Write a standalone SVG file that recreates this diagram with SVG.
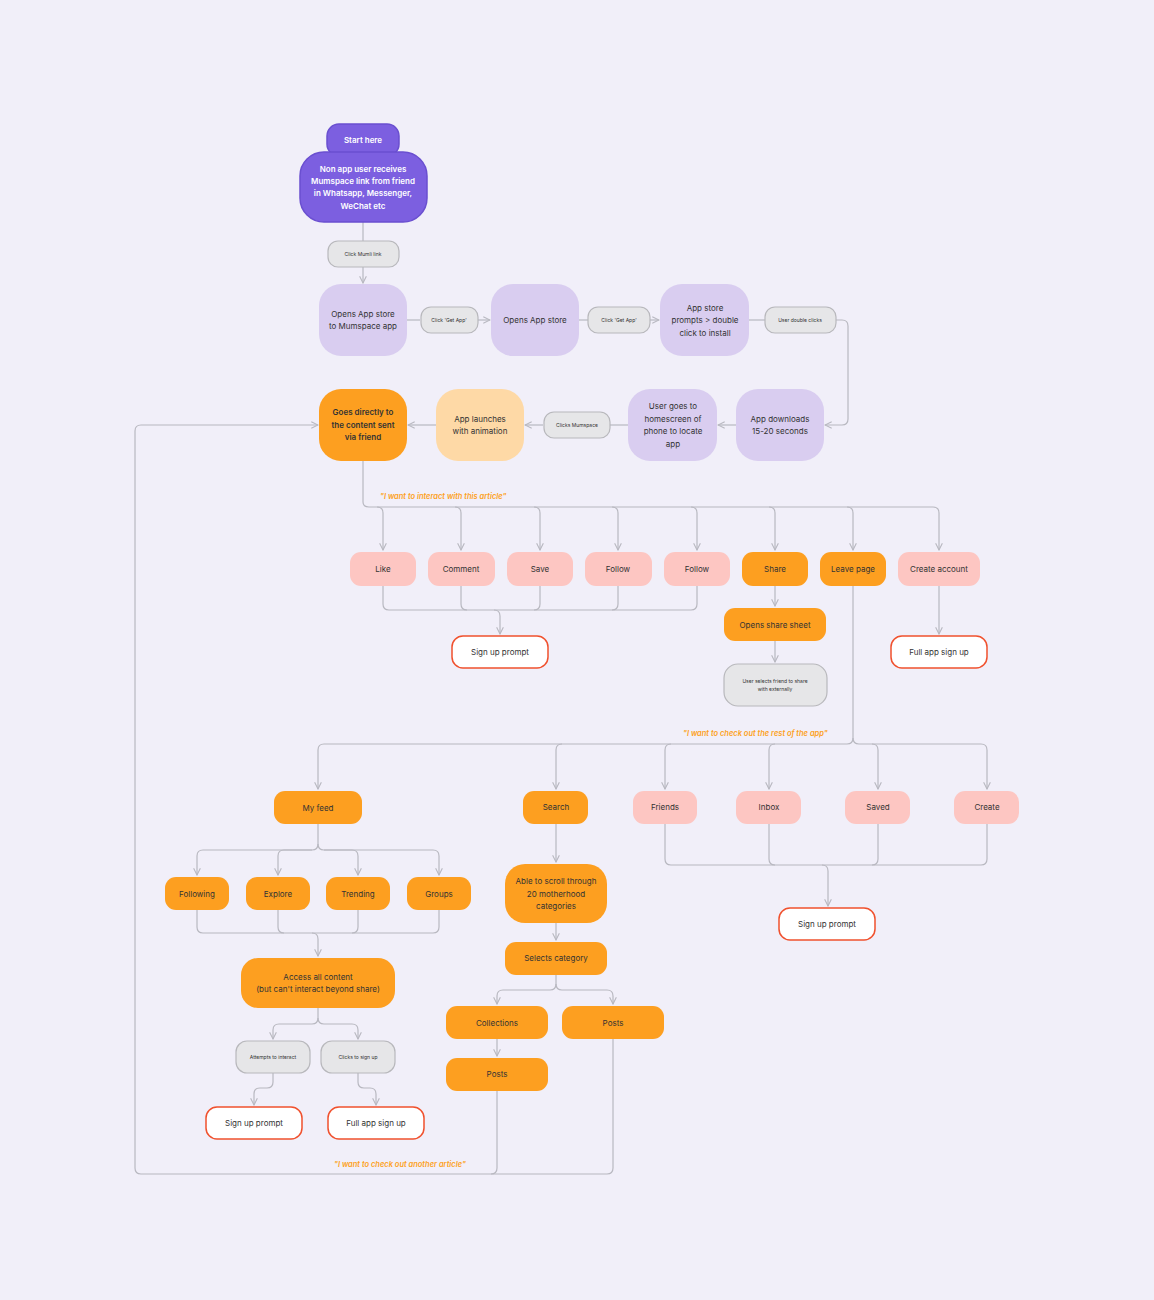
<svg xmlns="http://www.w3.org/2000/svg" width="1154" height="1300" viewBox="0 0 1154 1300">
<defs>
<style>
text{font-family:Inter,"Liberation Sans",sans-serif;text-anchor:middle;dominant-baseline:central;font-size:8px;fill:#333}
.pu{fill:#7c5fe0;stroke:#6a4fd0;stroke-width:1.5}
.pt{fill:#fff;font-weight:600}
.lv{fill:#d9cdf0}
.gr{fill:#e6e6e8;stroke:#b8b8bc;stroke-width:1.2}
.gt{font-size:5px}
.or{fill:#fd9f20}
.pk{fill:#fdc6c2}
.yl{fill:#fed9a6}
.rd{fill:#fff;stroke:#f0512e;stroke-width:1.5}
.lab{fill:#fd9f20;font-style:italic;font-weight:600;font-size:7.5px;text-anchor:start}
.c path{fill:none;stroke:#b8b8c0;stroke-width:1.2}
</style>
<marker id="a" viewBox="0 0 10 10" refX="9" refY="5" markerWidth="7" markerHeight="7" orient="auto-start-reverse"><path d="M1 1L9 5L1 9" fill="none" stroke="#b8b8c0" stroke-width="1.3"/></marker>
</defs>
<rect width="1154" height="1300" fill="#f1eff9"/>
<g class="c">
<path d="M363 222V241"/><path d="M363 267V283" marker-end="url(#a)"/>
<path d="M407 320H420"/><path d="M478 320H490" marker-end="url(#a)"/>
<path d="M579 320H588"/><path d="M650 320H659" marker-end="url(#a)"/>
<path d="M749 320H765"/><path d="M836 320H842Q848 320 848 326V419Q848 425 842 425H825" marker-end="url(#a)"/>
<path d="M736 425H718" marker-end="url(#a)"/>
<path d="M628 425H610"/><path d="M543 425H525" marker-end="url(#a)"/>
<path d="M436 425H408" marker-end="url(#a)"/>
<path d="M363 461V502Q363 507 369 507H933Q939 507 939 513V550" marker-end="url(#a)"/>
<path d="M377 507Q383 507 383 513V550" marker-end="url(#a)"/>
<path d="M455 507Q461 507 461 513V550" marker-end="url(#a)"/>
<path d="M534 507Q540 507 540 513V550" marker-end="url(#a)"/>
<path d="M612 507Q618 507 618 513V550" marker-end="url(#a)"/>
<path d="M691 507Q697 507 697 513V550" marker-end="url(#a)"/>
<path d="M769 507Q775 507 775 513V550" marker-end="url(#a)"/>
<path d="M847 507Q853 507 853 513V550" marker-end="url(#a)"/>
<path d="M383 586V604Q383 610 389 610H691Q697 610 697 604V586"/>
<path d="M461 586V604Q461 610 467 610"/><path d="M540 586V604Q540 610 534 610"/><path d="M618 586V604Q618 610 612 610"/>
<path d="M494 610Q500 610 500 616V634" marker-end="url(#a)"/>
<path d="M775 586V606" marker-end="url(#a)"/>
<path d="M775 641V662" marker-end="url(#a)"/>
<path d="M939 586V634" marker-end="url(#a)"/>
<path d="M853 586V738Q853 744 847 744H324Q318 744 318 750V789" marker-end="url(#a)"/>
<path d="M853 738Q853 744 859 744H981Q987 744 987 750V789" marker-end="url(#a)"/>
<path d="M562 744Q556 744 556 750V789" marker-end="url(#a)"/>
<path d="M671 744Q665 744 665 750V789" marker-end="url(#a)"/>
<path d="M775 744Q769 744 769 750V789" marker-end="url(#a)"/>
<path d="M872 744Q878 744 878 750V789" marker-end="url(#a)"/>
<path d="M665 824V859Q665 865 671 865H981Q987 865 987 859V824"/>
<path d="M769 824V859Q769 865 775 865"/><path d="M878 824V859Q878 865 872 865"/>
<path d="M822 865Q828 865 828 871V906" marker-end="url(#a)"/>
<path d="M318 824V844Q318 850 312 850H203Q197 850 197 856V875" marker-end="url(#a)"/>
<path d="M318 844Q318 850 324 850H433Q439 850 439 856V875" marker-end="url(#a)"/>
<path d="M312 850H284Q278 850 278 856V875" marker-end="url(#a)"/>
<path d="M324 850H352Q358 850 358 856V875" marker-end="url(#a)"/>
<path d="M197 910V927Q197 933 203 933H433Q439 933 439 927V910"/>
<path d="M278 910V927Q278 933 284 933"/><path d="M358 910V927Q358 933 352 933"/>
<path d="M312 933Q318 933 318 939V956" marker-end="url(#a)"/>
<path d="M318 1008V1018Q318 1024 312 1024H279Q273 1024 273 1030V1039" marker-end="url(#a)"/>
<path d="M318 1018Q318 1024 324 1024H352Q358 1024 358 1030V1039" marker-end="url(#a)"/>
<path d="M273 1073V1082Q273 1088 267 1088H260Q254 1088 254 1094V1105" marker-end="url(#a)"/>
<path d="M358 1073V1082Q358 1088 364 1088H370Q376 1088 376 1094V1105" marker-end="url(#a)"/>
<path d="M556 824V862" marker-end="url(#a)"/>
<path d="M556 923V940" marker-end="url(#a)"/>
<path d="M556 975V984Q556 990 550 990H503Q497 990 497 996V1004" marker-end="url(#a)"/>
<path d="M556 984Q556 990 562 990H607Q613 990 613 996V1004" marker-end="url(#a)"/>
<path d="M497 1039V1056" marker-end="url(#a)"/>
<path d="M497 1091V1168Q497 1174 491 1174H141Q135 1174 135 1168V431Q135 425 141 425H318" marker-end="url(#a)"/>
<path d="M613 1039V1168Q613 1174 607 1174H491"/>
</g>
<g id="start"><rect class="pu" x="327" y="124" width="72" height="32" rx="12"/><text class="pt" x="363" y="140">Start here</text></g>
<g id="receive"><rect class="pu" x="300" y="152" width="127" height="70" rx="24"/><text class="pt"><tspan x="363" y="169">Non app user receives</tspan><tspan x="363" y="181">Mumspace link from friend</tspan><tspan x="363" y="193">in Whatsapp, Messenger,</tspan><tspan x="363" y="206">WeChat etc</tspan></text></g>
<g id="clickmumli"><rect class="gr" x="328" y="241" width="71" height="26" rx="10"/><text class="gt" x="363" y="254">Click Mumli link</text></g>
<g id="opens1"><rect class="lv" x="319" y="284" width="88" height="72" rx="22"/><text><tspan x="363" y="314">Opens App store</tspan><tspan x="363" y="326">to Mumspace app</tspan></text></g>
<g id="getapp1"><rect class="gr" x="421" y="307" width="57" height="26" rx="10"/><text class="gt" x="449" y="320">Click 'Get App'</text></g>
<g id="opens2"><rect class="lv" x="491" y="284" width="88" height="72" rx="22"/><text x="535" y="320">Opens App store</text></g>
<g id="getapp2"><rect class="gr" x="588" y="307" width="62" height="26" rx="10"/><text class="gt" x="619" y="320">Click 'Get App'</text></g>
<g id="prompts"><rect class="lv" x="660" y="284" width="89" height="72" rx="22"/><text><tspan x="705" y="308">App store</tspan><tspan x="705" y="320">prompts &gt; double</tspan><tspan x="705" y="333">click to install</tspan></text></g>
<g id="dbl"><rect class="gr" x="765" y="307" width="71" height="26" rx="10"/><text class="gt" x="800" y="320">User double clicks</text></g>
<g id="downloads"><rect class="lv" x="736" y="389" width="88" height="72" rx="22"/><text><tspan x="780" y="419">App downloads</tspan><tspan x="780" y="431">15-20 seconds</tspan></text></g>
<g id="homescreen"><rect class="lv" x="628" y="389" width="89" height="72" rx="22"/><text><tspan x="673" y="406">User goes to</tspan><tspan x="673" y="419">homescreen of</tspan><tspan x="673" y="431">phone to locate</tspan><tspan x="673" y="444">app</tspan></text></g>
<g id="clicksmum"><rect class="gr" x="544" y="412" width="66" height="26" rx="10"/><text class="gt" x="577" y="425">Clicks Mumspace</text></g>
<g id="launch"><rect class="yl" x="436" y="389" width="88" height="72" rx="22"/><text><tspan x="480" y="419">App launches</tspan><tspan x="480" y="431">with animation</tspan></text></g>
<g id="goes"><rect class="or" x="319" y="389" width="88" height="72" rx="22"/><text font-weight="600"><tspan x="363" y="412">Goes directly to</tspan><tspan x="363" y="425">the content sent</tspan><tspan x="363" y="437">via friend</tspan></text></g>
<text class="lab" x="380" y="496">"I want to interact with this article"</text>
<g id="like"><rect class="pk" x="350" y="552" width="66" height="34" rx="11"/><text x="383" y="569">Like</text></g>
<g id="comment"><rect class="pk" x="428" y="552" width="67" height="34" rx="11"/><text x="461" y="569">Comment</text></g>
<g id="save"><rect class="pk" x="507" y="552" width="66" height="34" rx="11"/><text x="540" y="569">Save</text></g>
<g id="follow1"><rect class="pk" x="585" y="552" width="67" height="34" rx="11"/><text x="618" y="569">Follow</text></g>
<g id="follow2"><rect class="pk" x="664" y="552" width="66" height="34" rx="11"/><text x="697" y="569">Follow</text></g>
<g id="share"><rect class="or" x="742" y="552" width="66" height="34" rx="11"/><text x="775" y="569">Share</text></g>
<g id="leave"><rect class="or" x="820" y="552" width="66" height="34" rx="11"/><text x="853" y="569">Leave page</text></g>
<g id="create"><rect class="pk" x="898" y="552" width="82" height="34" rx="11"/><text x="939" y="569">Create account</text></g>
<g id="signup1"><rect class="rd" x="452" y="636" width="96" height="32" rx="11"/><text x="500" y="652">Sign up prompt</text></g>
<g id="sharesheet"><rect class="or" x="724" y="608" width="102" height="33" rx="11"/><text x="775" y="625">Opens share sheet</text></g>
<g id="selects"><rect class="gr" x="724" y="664" width="103" height="42" rx="14"/><text class="gt"><tspan x="775" y="681">User selects friend to share</tspan><tspan x="775" y="689">with externally</tspan></text></g>
<g id="full1"><rect class="rd" x="891" y="636" width="96" height="32" rx="11"/><text x="939" y="652">Full app sign up</text></g>
<text class="lab" x="683" y="733">"I want to check out the rest of the app"</text>
<g id="myfeed"><rect class="or" x="274" y="791" width="88" height="33" rx="11"/><text x="318" y="808">My feed</text></g>
<g id="search"><rect class="or" x="523" y="791" width="65" height="33" rx="11"/><text x="556" y="807">Search</text></g>
<g id="friends"><rect class="pk" x="633" y="791" width="64" height="33" rx="11"/><text x="665" y="807">Friends</text></g>
<g id="inbox"><rect class="pk" x="736" y="791" width="65" height="33" rx="11"/><text x="769" y="807">Inbox</text></g>
<g id="saved"><rect class="pk" x="845" y="791" width="65" height="33" rx="11"/><text x="878" y="807">Saved</text></g>
<g id="createb"><rect class="pk" x="954" y="791" width="65" height="33" rx="11"/><text x="987" y="807">Create</text></g>
<g id="signup2"><rect class="rd" x="779" y="908" width="96" height="32" rx="11"/><text x="827" y="924">Sign up prompt</text></g>
<g id="following"><rect class="or" x="165" y="877" width="64" height="33" rx="11"/><text x="197" y="894">Following</text></g>
<g id="explore"><rect class="or" x="246" y="877" width="64" height="33" rx="11"/><text x="278" y="894">Explore</text></g>
<g id="trending"><rect class="or" x="326" y="877" width="64" height="33" rx="11"/><text x="358" y="894">Trending</text></g>
<g id="groups"><rect class="or" x="407" y="877" width="64" height="33" rx="11"/><text x="439" y="894">Groups</text></g>
<g id="access"><rect class="or" x="241" y="958" width="154" height="50" rx="17"/><text><tspan x="318" y="977">Access all content</tspan><tspan x="318" y="989">(but can't interact beyond share)</tspan></text></g>
<g id="attempts"><rect class="gr" x="236" y="1041" width="74" height="32" rx="11"/><text class="gt" x="273" y="1057">Attempts to interact</text></g>
<g id="clickssign"><rect class="gr" x="321" y="1041" width="74" height="32" rx="11"/><text class="gt" x="358" y="1057">Clicks to sign up</text></g>
<g id="signup3"><rect class="rd" x="206" y="1107" width="96" height="32" rx="11"/><text x="254" y="1123">Sign up prompt</text></g>
<g id="full2"><rect class="rd" x="328" y="1107" width="96" height="32" rx="11"/><text x="376" y="1123">Full app sign up</text></g>
<g id="scroll"><rect class="or" x="505" y="864" width="102" height="59" rx="20"/><text><tspan x="556" y="881">Able to scroll through</tspan><tspan x="556" y="894">20 motherhood</tspan><tspan x="556" y="906">categories</tspan></text></g>
<g id="selcat"><rect class="or" x="505" y="942" width="102" height="33" rx="11"/><text x="556" y="958">Selects category</text></g>
<g id="collections"><rect class="or" x="446" y="1006" width="102" height="33" rx="11"/><text x="497" y="1023">Collections</text></g>
<g id="posts1"><rect class="or" x="562" y="1006" width="102" height="33" rx="11"/><text x="613" y="1023">Posts</text></g>
<g id="posts2"><rect class="or" x="446" y="1058" width="102" height="33" rx="11"/><text x="497" y="1074">Posts</text></g>
<text class="lab" x="334" y="1164">"I want to check out another article"</text>
</svg>
